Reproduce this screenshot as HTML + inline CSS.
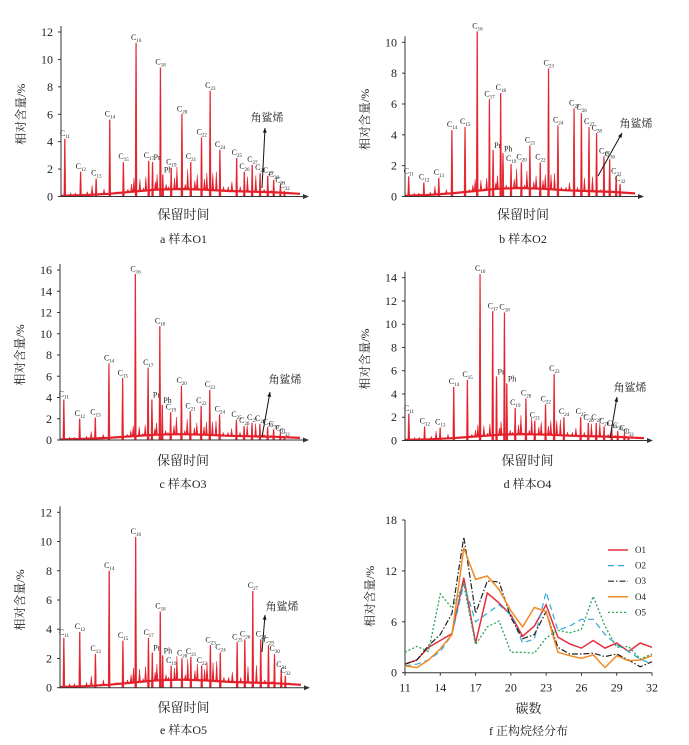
<!DOCTYPE html>
<html><head><meta charset="utf-8">
<style>
html,body{margin:0;padding:0;background:#fff;}
svg{display:block;font-family:"Liberation Serif","Noto Serif CJK SC","Noto Sans CJK SC",serif;}
</style></head>
<body>
<svg id="fig" width="689" height="745" viewBox="0 0 689 745" xmlns="http://www.w3.org/2000/svg"></svg>
<script>
// ---- Chromatogram data ----
const peakNames = ["C11","C12","C13","C14","C15","C16","C17","Pr","C18","Ph","C19","C20","C21","C22","C23","C24","C25","C26","C27","C28","C29","C30","C31","C32"];
const peakTimes = [1.6,8.2,14.7,20.4,26.1,31.4,36.7,38.3,41.6,42.6,46.1,50.6,54.3,58.8,62.4,66.5,73.5,76.7,80,83.3,86.5,89,91.8,93.5];
const heightsO1 = [4.2,1.8,1.3,5.6,2.5,11.2,2.6,2.5,9.4,1.6,2.1,6.0,2.5,4.3,7.7,3.4,2.8,1.8,2.3,1.7,1.5,1.2,0.8,0.4];
const heightsO2 = [1.3,0.9,1.2,4.3,4.5,10.7,6.3,3.0,6.7,2.8,2.1,2.2,3.3,2.2,8.3,4.6,5.7,5.4,4.5,4.1,2.6,2.4,1.3,0.8];
const heightsO3 = [3.8,2.0,2.1,7.2,5.8,15.6,6.8,3.8,10.7,3.3,2.6,5.1,2.7,3.2,4.7,2.4,1.9,1.3,1.6,1.5,1.2,1.0,0.6,0.3];
const heightsO4 = [2.3,1.2,1.1,4.6,5.2,14.3,11.1,5.5,11.0,4.9,2.8,3.6,1.7,3.1,5.7,2.0,2.0,1.5,1.5,1.2,1.0,0.8,0.6,0.3];
const heightsO5 = [3.4,3.8,2.3,8.0,3.2,10.3,3.4,2.4,5.2,2.2,1.5,2.0,2.1,1.5,2.9,2.4,3.1,3.3,6.6,3.3,2.9,2.3,1.2,0.8];
const minorTimes = [4,6,11,13,17,18,23,24,28,29.5,30.5,33,34.5,35.5,39.5,40.2,44,45,47.5,48.5,52,53,56,57,60,61,63.5,65,68,70,71.5,75,78,81.5,85,88,91,95,97];
const minorHeights = [0.3,0.3,0.4,0.9,0.3,0.6,0.4,0.4,0.6,1.0,1.5,1.4,0.7,1.6,1.2,1.8,1.0,0.8,1.5,2.4,1.0,2.2,1.3,1.8,1.4,1.9,1.9,2.0,0.8,0.8,1.2,0.8,1.6,1.7,0.6,0.5,0.4,0.4,0.3];
const baseTimes = [0,10,20,30,40,50,60,70,80,90,100];
const baseValues = [0.05,0.1,0.2,0.35,0.5,0.55,0.5,0.4,0.35,0.3,0.2];

// ---- Carbon distribution (panel f) ----
const carbonNumbers = [11,12,13,14,15,16,17,18,19,20,21,22,23,24,25,26,27,28,29,30,31,32];
const distO1 = [1.0,1.5,3.0,3.8,4.6,11.2,3.5,9.4,8.2,6.8,4.3,5.5,8.0,4.2,3.4,2.9,3.8,2.9,3.5,2.5,3.5,3.0];
const distO2 = [0.8,1.0,1.5,2.5,4.5,10.5,6.0,7.0,8.0,6.8,3.5,4.0,9.5,5.0,5.5,6.3,6.3,4.5,3.3,2.5,1.6,1.0];
const distO3 = [1.0,1.5,3.2,4.5,7.0,16.0,7.0,10.8,10.7,6.5,4.0,4.5,7.2,3.0,2.2,2.2,2.3,1.9,2.2,1.5,0.7,1.3];
const distO4 = [0.8,0.6,1.5,2.8,4.5,14.7,11.0,11.4,9.8,7.3,5.4,7.7,7.2,2.4,2.0,1.7,2.1,0.6,2.0,1.4,1.5,2.0];
const distO5 = [2.4,3.1,2.5,9.3,7.6,10.4,3.3,5.4,6.1,2.4,2.4,2.3,4.1,5.0,4.7,5.1,9.0,5.5,3.0,3.1,1.6,2.2];
const yTicksF = [0,6,12,18];
const xTicksF = [11,14,17,20,23,26,29,32];

const NS="http://www.w3.org/2000/svg";
const svg=document.getElementById('fig');
function mk(tag,attrs,parent){const e=document.createElementNS(NS,tag);for(const k in attrs)e.setAttribute(k,attrs[k]);(parent||svg).appendChild(e);return e;}
function txt(str,attrs,parent){const e=mk('text',attrs,parent);e.textContent=str;return e;}
const RED="#e3202b";

const panels=[
 {id:"a",cap:"a  样本O1",h:heightsO1,left:61,right:306,y0:196.5,ytop:32,ymax:12,step:2,sq:{x1:262,y1:188,x2:265,y2:128,tx:267,ty:121},capY:243,titY:219},
 {id:"b",cap:"b  样本O2",h:heightsO2,left:405,right:641,y0:196.5,ytop:42.3,ymax:10,step:2,sq:{x1:598,y1:176,x2:622,y2:133,tx:636,ty:127},capY:243,titY:219},
 {id:"c",cap:"c  样本O3",h:heightsO3,left:60,right:306,y0:440,ytop:270,ymax:16,step:2,sq:{x1:262,y1:437,x2:270,y2:392,tx:285,ty:383},capY:488,titY:465},
 {id:"d",cap:"d  样本O4",h:heightsO4,left:405,right:650,y0:440.5,ytop:277.7,ymax:14,step:2,sq:{x1:610,y1:438,x2:617,y2:397,tx:630,ty:391},capY:488,titY:465},
 {id:"e",cap:"e  样本O5",h:heightsO5,left:60,right:307,y0:687.7,ytop:512.3,ymax:12,step:2,sq:{x1:262,y1:652,x2:265,y2:615,tx:282,ty:610},capY:734,titY:712}
];

panels.forEach(p=>{
 const g=mk('g',{});
 
 
 const xs=t=>p.left+t/100*(p.right-p.left-6);
 const ys=v=>p.y0-v/p.ymax*(p.y0-p.ytop);
 // baseline
 let d="";
 for(let i=0;i<baseTimes.length;i++){d+=(i?"L":"M")+xs(baseTimes[i]).toFixed(1)+","+ys(baseValues[i]).toFixed(1);}
 const bl=mk('path',{d:d,fill:"none",stroke:RED,"stroke-width":2.2},g);
 
 
 const bi=(t)=>{for(let i=1;i<baseTimes.length;i++){if(t<=baseTimes[i]){const f=(t-baseTimes[i-1])/(baseTimes[i]-baseTimes[i-1]);return baseValues[i-1]+f*(baseValues[i]-baseValues[i-1]);}}return 0.2;};
 minorTimes.forEach((t,i)=>{
  const x=xs(t),b=ys(bi(t)),y=ys(minorHeights[i]*Math.min(1,p.ymax/12)*0.9);
  const m=mk('path',{d:`M${x-1},${b}L${x},${y}L${x+1},${b}Z`,fill:RED,stroke:RED,"stroke-width":0.5},g);
  
  
 });
 peakTimes.forEach((t,i)=>{
  const x=xs(t),b=p.y0,y=ys(p.h[i]);
  const pk=mk('path',{d:`M${x-1},${b}L${x-0.4},${y}L${x+0.4},${y}L${x+1},${b}Z`,fill:RED,stroke:RED,"stroke-width":0.4},g);
  
  
  const nm=peakNames[i];
  if(nm[0]==="C"){
   const tl=mk('text',{x:x-5,y:y-3,"font-size":8,fill:"#222"},g);
   
   
   tl.textContent="C";
   const s=mk('tspan',{"font-size":5,dy:2},tl);s.textContent=nm.slice(1);
  } else {
   const tl=txt(nm,{x:x+1,y:y-2,"font-size":8,fill:"#222"},g);
   
   
  }
 });
 // axes
 const ya=mk('line',{x1:p.left,y1:p.y0,x2:p.left,y2:p.ytop-6,stroke:"#333","stroke-width":1},g);
 
 
 const xa=mk('line',{x1:p.left,y1:p.y0,x2:p.right,y2:p.y0,stroke:"#333","stroke-width":1},g);
 
 
 mk('path',{d:`M${p.right+3},${p.y0}L${p.right-3},${p.y0-2.5}L${p.right-3},${p.y0+2.5}Z`,fill:"#333"},g);
 for(let v=0;v<=p.ymax;v+=p.step){
  mk('line',{x1:p.left-3,y1:ys(v),x2:p.left,y2:ys(v),stroke:"#333"},g);
  const tk=txt(String(v),{x:p.left-8,y:ys(v)+4,"font-size":12,"text-anchor":"end",fill:"#222"},g);
  
  
 }
 const cy=(p.y0+p.ytop)/2;
 const yt=txt("相对含量/%",{x:0,y:0,"font-size":12,"text-anchor":"middle",fill:"#222",transform:`translate(${p.left-36},${cy}) rotate(-90)`},g);
 
 
 const xt=txt("保留时间",{x:(p.left+p.right)/2,y:p.titY,"font-size":13,"text-anchor":"middle",fill:"#222"},g);
 
 
 const cp=txt(p.cap,{x:(p.left+p.right)/2,y:p.capY,"font-size":12,"text-anchor":"middle",fill:"#222"},g);
 
 
 // squalene arrow
 const s=p.sq;
 const ar=mk('line',{x1:s.x1,y1:s.y1,x2:s.x2,y2:s.y2,stroke:"#111","stroke-width":1},g);
 
 
 const ang=Math.atan2(s.y2-s.y1,s.x2-s.x1);
 const hx=s.x2,hy=s.y2,L=5;
 mk('path',{d:`M${hx},${hy}L${hx-L*Math.cos(ang-0.4)},${hy-L*Math.sin(ang-0.4)}L${hx-L*Math.cos(ang+0.4)},${hy-L*Math.sin(ang+0.4)}Z`,fill:"#111"},g);
 const sl=txt("角鲨烯",{x:s.tx,y:s.ty,"font-size":11,"text-anchor":"middle",fill:"#222"},g);
 
 
});

// ---- Panel f ----
(function(){
 const g=mk('g',{});
 
 
 const L=405,R=652,Y0=672.7,YT=520;
 const xs=c=>L+(c-11)/21*(R-L);
 const ys=v=>Y0-v/18*(Y0-YT);
 const ya=mk('line',{x1:L,y1:Y0,x2:L,y2:YT,stroke:"#333"},g);
 
 
 const xa=mk('line',{x1:L,y1:Y0,x2:R,y2:Y0,stroke:"#333"},g);
 
 
 yTicksF.forEach(v=>{
  mk('line',{x1:L-3,y1:ys(v),x2:L,y2:ys(v),stroke:"#333"},g);
  const t=txt(String(v),{x:L-8,y:ys(v)+4,"font-size":12,"text-anchor":"end",fill:"#222"},g);
  
  
 });
 xTicksF.forEach(v=>{
  mk('line',{x1:xs(v),y1:Y0,x2:xs(v),y2:Y0+3,stroke:"#333"},g);
  const t=txt(String(v),{x:xs(v),y:Y0+19,"font-size":12,"text-anchor":"middle",fill:"#222"},g);
  
  
 });
 const series=[
  {n:"O1",d:distO1,c:"#e3303f",da:"",w:1.5},
  {n:"O2",d:distO2,c:"#2ea8d8",da:"6,4",w:1.2},
  {n:"O3",d:distO3,c:"#222",da:"6,2,1.5,2",w:1.2},
  {n:"O4",d:distO4,c:"#f08a24",da:"",w:1.5},
  {n:"O5",d:distO5,c:"#2aa65a",da:"2,2",w:1.3}
 ];
 series.forEach((s,k)=>{
  const pts=carbonNumbers.map((c,i)=>xs(c).toFixed(1)+","+ys(s.d[i]).toFixed(1)).join(" ");
  const pl=mk('polyline',{points:pts,fill:"none",stroke:s.c,"stroke-width":s.w,"stroke-dasharray":s.da},g);
  
  
  const ly=550+k*15.6;
  const ll=mk('line',{x1:608,y1:ly,x2:628,y2:ly,stroke:s.c,"stroke-width":s.w,"stroke-dasharray":s.da},g);
  
  
  const lt=txt(s.n,{x:635,y:ly+3,"font-size":9,fill:"#222"},g);
  
  
 });
 const yt=txt("相对含量/%",{x:0,y:0,"font-size":12,"text-anchor":"middle",fill:"#222",transform:`translate(374,${(Y0+YT)/2}) rotate(-90)`},g);
 
 
 const xt=txt("碳数",{x:(L+R)/2,y:713,"font-size":13,"text-anchor":"middle",fill:"#222"},g);
 
 
 const cp=txt("f  正构烷烃分布",{x:(L+R)/2,y:735,"font-size":12,"text-anchor":"middle",fill:"#222"},g);
 
 
})();
</script>
</body></html>
